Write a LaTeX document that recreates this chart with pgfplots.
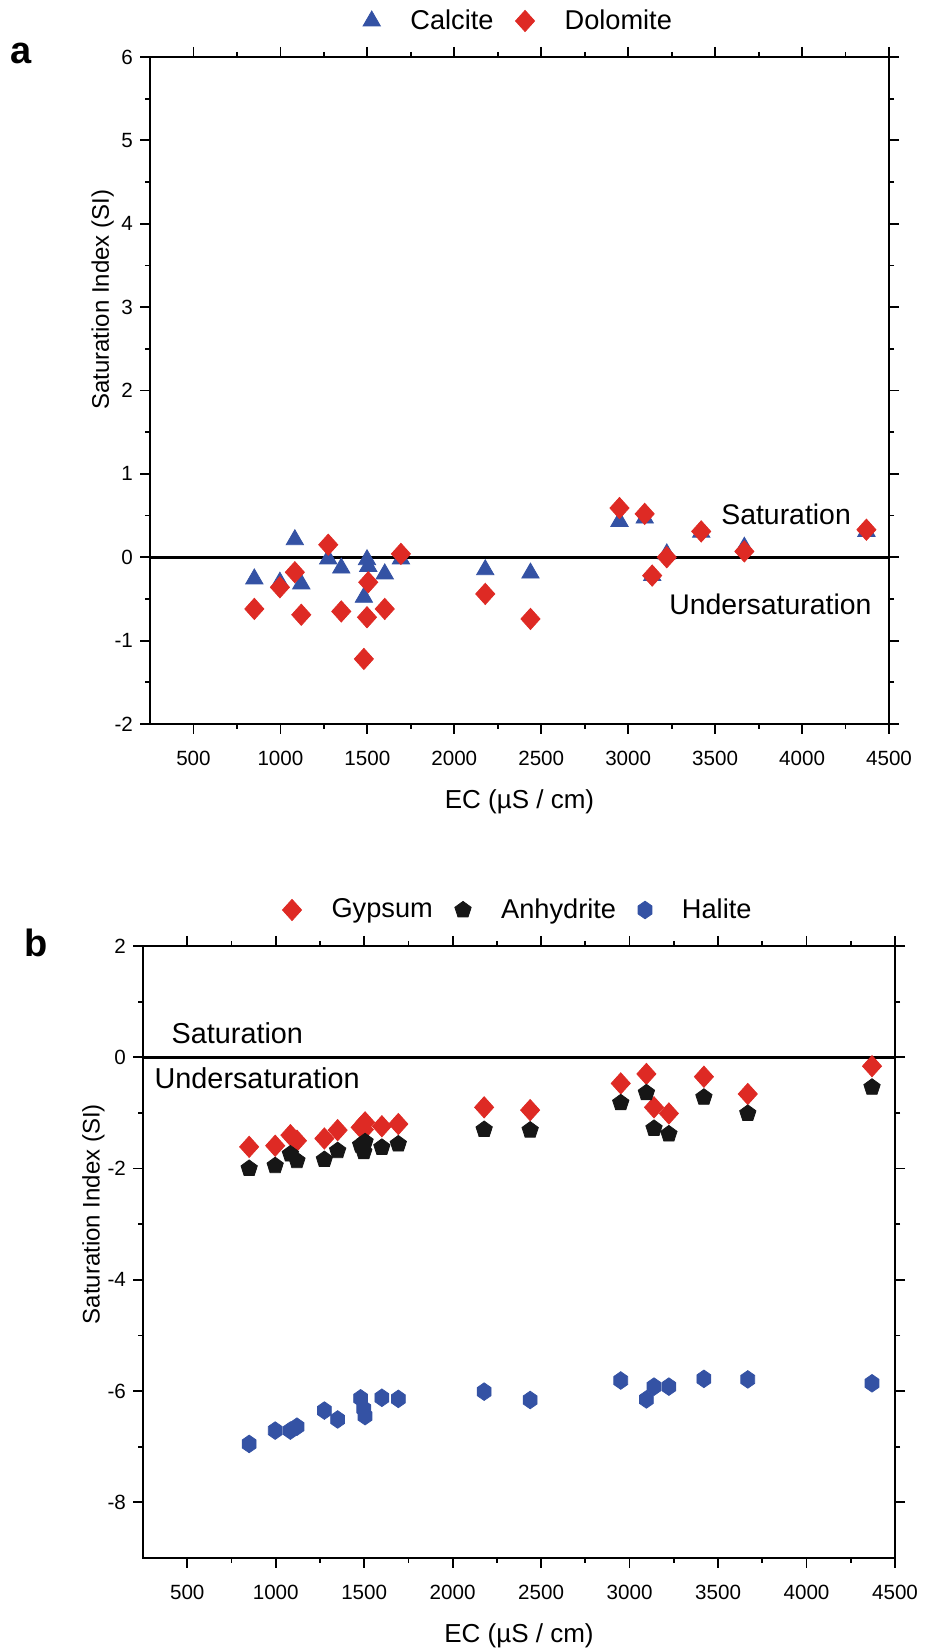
\documentclass[border=0pt]{standalone}
\usepackage{fontspec}
\setmainfont{Liberation Sans}
\usepackage{pgfplots}
\usepackage{pgfplotstable}
\pgfplotsset{compat=1.18}
\usetikzlibrary{plotmarks}

\definecolor{cblue}{RGB}{52,82,164}
\definecolor{cred}{RGB}{222,42,36}
\definecolor{cblack}{RGB}{22,22,22}

\pgfdeclareplotmark{hexagon*}{%
  \pgfpathmoveto{\pgfqpoint{0pt}{1.1\pgfplotmarksize}}%
  \pgfpathlineto{\pgfqpoint{0.866\pgfplotmarksize}{0.5\pgfplotmarksize}}%
  \pgfpathlineto{\pgfqpoint{0.866\pgfplotmarksize}{-0.5\pgfplotmarksize}}%
  \pgfpathlineto{\pgfqpoint{0pt}{-1.1\pgfplotmarksize}}%
  \pgfpathlineto{\pgfqpoint{-0.866\pgfplotmarksize}{-0.5\pgfplotmarksize}}%
  \pgfpathlineto{\pgfqpoint{-0.866\pgfplotmarksize}{0.5\pgfplotmarksize}}%
  \pgfpathclose
  \pgfusepathqfillstroke
}

% EC (uS/cm) and saturation indices
\pgfplotstableread{
x     cal    dol    gyp    anh    hal
850   -0.26  -0.62  -1.61  -2.00  -6.95
997   -0.30  -0.36  -1.59  -1.95  -6.71
1083   0.21  -0.18  -1.40  -1.74  -6.71
1120  -0.32  -0.69  -1.50  -1.86  -6.64
1275  -0.02   0.15  -1.46  -1.84  -6.35
1350  -0.13  -0.65  -1.31  -1.68  -6.51
1480  -0.48  -1.22  -1.26  -1.58  -6.13
1498  -0.03  -0.72  -1.30  -1.70  -6.32
1505  -0.11  -0.30  -1.17  -1.52  -6.45
1600  -0.20  -0.62  -1.24  -1.62  -6.12
1693  -0.02   0.04  -1.20  -1.56  -6.14
2178  -0.15  -0.44  -0.90  -1.30  -6.01
2438  -0.19  -0.74  -0.95  -1.31  -6.16
2950   0.43   0.59  -0.47  -0.82  -5.81
3095   0.47   0.52  -0.30  -0.64  -6.15
3138  -0.22  -0.22  -0.90  -1.28  -5.92
3222   0.04   0.00  -1.01  -1.38  -5.92
3420   0.30   0.31  -0.35  -0.72  -5.78
3668   0.12   0.07  -0.66  -1.01  -5.79
4370   0.31   0.33  -0.16  -0.54  -5.86
}\datatable

\pgfplotsset{
  myaxis/.style={
    scale only axis,
    anchor=south west,
    xmin=250, xmax=4500,
    xtick={500,1000,...,4500},
    minor x tick num=1,
    minor y tick num=1,
    tick align=outside,
    major tick length=5pt,
    minor tick length=2.5pt,
    axis line style={line width=0.9pt},
    every tick/.style={black, line width=0.9pt},
    tick label style={font=\fontsize{10.3}{12}\selectfont},
    xticklabel style={yshift=-5pt},
    /pgf/number format/assume math mode=true,
    /pgf/number format/1000 sep={},
    xlabel={EC (µS / cm)},
    ylabel={Saturation Index (SI)},
    xlabel style={font=\fontsize{13}{15}\selectfont, at={(axis description cs:0.5,0)}, anchor=center, yshift=-39pt},
    ylabel style={font=\fontsize{12}{14}\selectfont},
    legend columns=-1,
    legend style={draw=none, fill=none, at={(axis description cs:0.5,1)}, anchor=center, yshift=18pt,
      font=\fontsize{13.6}{16}\selectfont,
      /tikz/every odd column/.append style={column sep=13pt},
      /tikz/every even column/.append style={column sep=9pt}},
    legend cell align=left,
  }
}

\begin{document}
\begin{tikzpicture}
\useasboundingbox (0,0) rectangle (464.5pt,824pt);

% ---------------- panel a ----------------
\begin{axis}[myaxis,
  at={(75pt,462pt)},
  width=369.5pt, height=333.5pt,
  ymin=-2, ymax=6, ytick={-2,-1,...,6},
  ylabel style={at={(axis description cs:-0.064,0.636)}, anchor=center},
]
\addplot[only marks, mark=triangle*, mark size=5pt, mark options={draw=cblue, fill=cblue}]
  table[x=x, y=cal] {\datatable};
\addlegendentry{Calcite}
\addplot[only marks, mark=diamond*, mark size=5.3pt, mark options={draw=cred, fill=cred, xscale=1.2}]
  table[x=x, y=dol] {\datatable};
\addlegendentry{Dolomite}
\addplot[black, line width=1.4pt, forget plot] coordinates {(250,0) (4500,0)};
\node[font=\fontsize{14.2}{16}\selectfont] at (axis cs:3908,0.51) {Saturation};
\node[font=\fontsize{14.2}{16}\selectfont] at (axis cs:3818,-0.57) {Undersaturation};
\end{axis}

% ---------------- panel b ----------------
\begin{axis}[myaxis,
  at={(71.5pt,45pt)},
  width=376pt, height=306pt,
  ymin=-9, ymax=2, ytick={-8,-6,...,2},
  ylabel style={at={(axis description cs:-0.066,0.562)}, anchor=center},
]
\addplot[only marks, mark=diamond*, mark size=5.3pt, mark options={draw=cred, fill=cred, xscale=1.2}]
  table[x=x, y=gyp] {\datatable};
\addlegendentry{Gypsum}
\addplot[only marks, mark=pentagon*, mark size=4.3pt, mark options={draw=cblack, fill=cblack}]
  table[x=x, y=anh] {\datatable};
\addlegendentry{Anhydrite}
\addplot[only marks, mark=hexagon*, mark size=4pt, mark options={draw=cblue, fill=cblue}]
  table[x=x, y=hal] {\datatable};
\addlegendentry{Halite}
\addplot[black, line width=1.4pt, forget plot] coordinates {(250,0) (4500,0)};
\node[font=\fontsize{14.4}{16}\selectfont] at (axis cs:783,0.43) {Saturation};
\node[font=\fontsize{14.4}{16}\selectfont] at (axis cs:895,-0.38) {Undersaturation};
\end{axis}

\node[font=\bfseries\fontsize{19}{22}\selectfont] at (10.5pt,797.5pt) {a};
\node[font=\bfseries\fontsize{19}{22}\selectfont] at (18pt,352.5pt) {b};
\end{tikzpicture}
\end{document}
